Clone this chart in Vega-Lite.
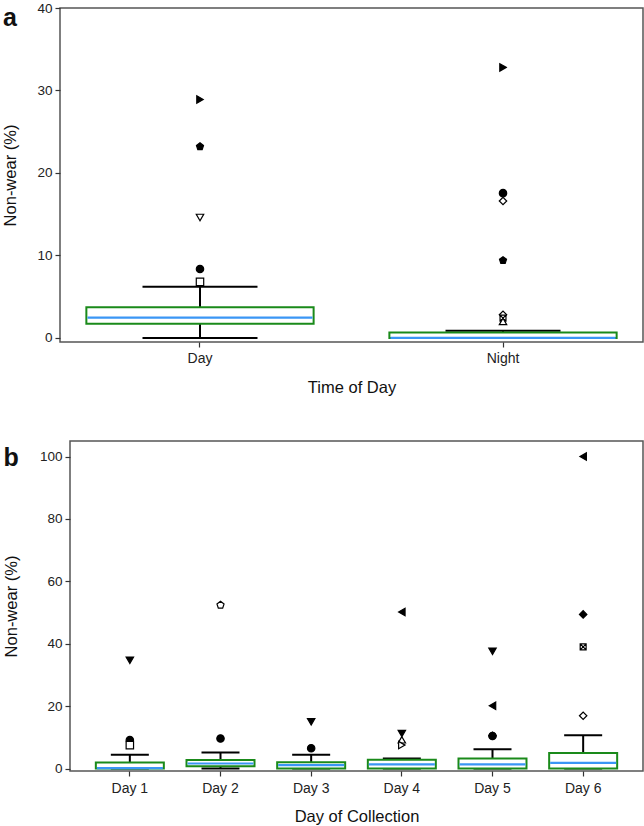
{
  "$schema": "https://vega.github.io/schema/vega-lite/v6.json",
  "padding": {"left": 1, "top": 0, "right": 0, "bottom": 0},
  "background": "white",
  "config": {
    "font": "Liberation Sans",
    "view": {"stroke": "#555555", "strokeWidth": 1.5},
    "axis": {"grid": false, "domain": false, "tickColor": "#333333", "tickSize": 5, "tickWidth": 1.2, "labelFont": "Liberation Sans", "labelFontSize": 13.5, "labelColor": "#222222", "labelPadding": 3, "titleFont": "Liberation Sans", "titleFontSize": 16.5, "titleFontWeight": "normal", "titleColor": "#111111"},
    "axisX": {"labelPadding": 5, "labelFontSize": 14},
    "title": {"fontSize": 25, "fontWeight": "bold", "anchor": "start", "frame": "bounds", "color": "#111111", "font": "Liberation Sans"}
  },
  "datasets": {
    "empty": [],
    "boxA": [
      {"time": "Day", "lower": 0, "q1": 1.7, "median": 2.45, "q3": 3.7, "upper": 6.2},
      {"time": "Night", "lower": 0, "q1": 0, "median": 0, "q3": 0.64, "upper": 0.85}
    ],
    "outA": [
      {"time": "Day", "participant": "P1", "value": 28.9},
      {"time": "Day", "participant": "P2", "value": 23.2},
      {"time": "Day", "participant": "P3", "value": 14.6},
      {"time": "Day", "participant": "P4", "value": 8.35},
      {"time": "Day", "participant": "P5", "value": 6.8},
      {"time": "Night", "participant": "P1", "value": 32.8},
      {"time": "Night", "participant": "P4", "value": 17.55},
      {"time": "Night", "participant": "P6", "value": 16.6},
      {"time": "Night", "participant": "P2", "value": 9.4},
      {"time": "Night", "participant": "P14", "value": 2.8},
      {"time": "Night", "participant": "P8", "value": 2.4},
      {"time": "Night", "participant": "P7", "value": 2.0}
    ],
    "boxB": [
      {"day": "Day 1", "lower": 0, "q1": 0, "median": 0.1, "q3": 1.9, "upper": 4.4},
      {"day": "Day 2", "lower": 0, "q1": 0.7, "median": 1.6, "q3": 2.7, "upper": 5.1},
      {"day": "Day 3", "lower": 0, "q1": 0, "median": 1.1, "q3": 2.0, "upper": 4.4},
      {"day": "Day 4", "lower": 0, "q1": 0, "median": 1.3, "q3": 2.8, "upper": 3.2},
      {"day": "Day 5", "lower": 0, "q1": 0, "median": 1.3, "q3": 3.2, "upper": 6.2},
      {"day": "Day 6", "lower": 0, "q1": 0, "median": 1.8, "q3": 5.0, "upper": 10.7}
    ],
    "outB": [
      {"day": "Day 1", "participant": "P9", "value": 34.7},
      {"day": "Day 1", "participant": "P4", "value": 9.1},
      {"day": "Day 1", "participant": "P5", "value": 7.5},
      {"day": "Day 2", "participant": "P10", "value": 52.4},
      {"day": "Day 2", "participant": "P4", "value": 9.6},
      {"day": "Day 3", "participant": "P9", "value": 15.0},
      {"day": "Day 3", "participant": "P4", "value": 6.5},
      {"day": "Day 4", "participant": "P11", "value": 50.2},
      {"day": "Day 4", "participant": "P9", "value": 11.2},
      {"day": "Day 4", "participant": "P7", "value": 9.2},
      {"day": "Day 4", "participant": "P12", "value": 7.5},
      {"day": "Day 5", "participant": "P9", "value": 37.6},
      {"day": "Day 5", "participant": "P11", "value": 20.1},
      {"day": "Day 5", "participant": "P4", "value": 10.4},
      {"day": "Day 5", "participant": "P13", "value": 10.5},
      {"day": "Day 6", "participant": "P11", "value": 100},
      {"day": "Day 6", "participant": "P13", "value": 49.4},
      {"day": "Day 6", "participant": "P8", "value": 39},
      {"day": "Day 6", "participant": "P6", "value": 16.9}
    ]
  },
  "spacing": 43,
  "vconcat": [
    {"spacing": 0, "hconcat": [
    {"width": 1, "height": 1, "data": {"name": "empty"}, "mark": "point", "encoding": {}, "view": {"stroke": null}},
    {
      "width": 583,
      "height": 334,
      "title": {"text": "a", "offset": -30},
      "encoding": {
        "x": {"field": "time", "type": "nominal", "sort": ["Day", "Night"], "scale": {"paddingInner": 0.25, "paddingOuter": 0.087}, "axis": {"title": "Time of Day", "labelAngle": 0, "labelPadding": 4, "titlePadding": 14}}
      },
      "layer": [
        {
          "data": {"name": "boxA"},
          "mark": {"type": "rule", "color": "black", "strokeWidth": 2},
          "encoding": {
            "y": {"field": "lower", "type": "quantitative", "title": "Non-wear (%)", "scale": {"domain": [-0.5, 40], "nice": false, "zero": false}, "axis": {"values": [0, 10, 20, 30, 40], "titlePadding": 18}},
            "y2": {"field": "upper"}
          }
        },
        {
          "data": {"name": "boxA"},
          "mark": {"type": "tick", "color": "black", "size": 115, "thickness": 2, "opacity": 1},
          "encoding": {"y": {"field": "upper", "type": "quantitative", "title": "Non-wear (%)"}}
        },
        {
          "data": {"name": "boxA"},
          "mark": {"type": "tick", "color": "black", "size": 115, "thickness": 2, "opacity": 1},
          "encoding": {"y": {"field": "lower", "type": "quantitative", "title": "Non-wear (%)"}}
        },
        {
          "data": {"name": "boxA"},
          "mark": {"type": "bar", "fill": "white", "stroke": "#1a8a1a", "strokeWidth": 2},
          "encoding": {"y": {"field": "q1", "type": "quantitative", "title": "Non-wear (%)"}, "y2": {"field": "q3"}}
        },
        {
          "data": {"name": "boxA"},
          "mark": {"type": "tick", "color": "#3a96f5", "size": 225, "thickness": 2.2, "opacity": 1},
          "encoding": {"y": {"field": "median", "type": "quantitative", "title": "Non-wear (%)"}}
        },
        {
          "data": {"name": "outA"},
          "mark": {"type": "point", "stroke": "black", "strokeWidth": 1.2, "opacity": 1, "fillOpacity": 1, "size": 55},
          "encoding": {
            "y": {"field": "value", "type": "quantitative", "title": "Non-wear (%)"},
            "shape": {"field": "participant", "type": "nominal", "legend": null, "scale": {"domain": ["P1","P2","P3","P4","P5","P6","P7","P8","P9","P10","P11","P12","P13","P14"], "range": ["triangle-right", "M0,-1L0.951,-0.309L0.588,0.809L-0.588,0.809L-0.951,-0.309Z", "triangle-down", "circle", "square", "diamond", "triangle-up", "M-0.8,-0.8H0.8V0.8H-0.8ZM-0.8,-0.8L0.8,0.8M0.8,-0.8L-0.8,0.8", "triangle-down", "M0,-1L0.951,-0.309L0.588,0.809L-0.588,0.809L-0.951,-0.309Z", "triangle-left", "triangle-right", "diamond", "diamond"]}},
            "fill": {"field": "participant", "type": "nominal", "legend": null, "scale": {"domain": ["P1","P2","P3","P4","P5","P6","P7","P8","P9","P10","P11","P12","P13","P14"], "range": ["black", "black", "white", "black", "white", "white", "white", "white", "black", "white", "black", "white", "black", "white"]}}
          }
        }
      ]
    }]},
    {"spacing": 0, "hconcat": [
    {"width": 1, "height": 1, "data": {"name": "empty"}, "mark": "point", "encoding": {}, "view": {"stroke": null}},
    {
      "width": 573,
      "height": 330,
      "title": {"text": "b", "offset": -30},
      "encoding": {
        "x": {"field": "day", "type": "nominal", "sort": ["Day 1", "Day 2", "Day 3", "Day 4", "Day 5", "Day 6"], "scale": {"paddingInner": 0.25, "paddingOuter": 0.285}, "axis": {"title": "Day of Collection", "labelAngle": 0, "titlePadding": 13}}
      },
      "layer": [
        {
          "data": {"name": "boxB"},
          "mark": {"type": "rule", "color": "black", "strokeWidth": 2},
          "encoding": {
            "y": {"field": "lower", "type": "quantitative", "title": "Non-wear (%)", "scale": {"domain": [-0.8, 105], "nice": false, "zero": false}, "axis": {"values": [0, 20, 40, 60, 80, 100], "titlePadding": 20}},
            "y2": {"field": "upper"}
          }
        },
        {
          "data": {"name": "boxB"},
          "mark": {"type": "tick", "color": "black", "size": 38, "thickness": 2, "opacity": 1},
          "encoding": {"y": {"field": "upper", "type": "quantitative", "title": "Non-wear (%)"}}
        },
        {
          "data": {"name": "boxB"},
          "mark": {"type": "tick", "color": "black", "size": 38, "thickness": 2, "opacity": 1},
          "encoding": {"y": {"field": "lower", "type": "quantitative", "title": "Non-wear (%)"}}
        },
        {
          "data": {"name": "boxB"},
          "mark": {"type": "bar", "fill": "white", "stroke": "#1a8a1a", "strokeWidth": 2},
          "encoding": {"y": {"field": "q1", "type": "quantitative", "title": "Non-wear (%)"}, "y2": {"field": "q3"}}
        },
        {
          "data": {"name": "boxB"},
          "mark": {"type": "tick", "color": "#3a96f5", "size": 66, "thickness": 2.2, "opacity": 1},
          "encoding": {"y": {"field": "median", "type": "quantitative", "title": "Non-wear (%)"}}
        },
        {
          "data": {"name": "outB"},
          "mark": {"type": "point", "stroke": "black", "strokeWidth": 1.2, "opacity": 1, "fillOpacity": 1, "size": 55},
          "encoding": {
            "y": {"field": "value", "type": "quantitative", "title": "Non-wear (%)"},
            "shape": {"field": "participant", "type": "nominal", "legend": null, "scale": {"domain": ["P1","P2","P3","P4","P5","P6","P7","P8","P9","P10","P11","P12","P13","P14"], "range": ["triangle-right", "M0,-1L0.951,-0.309L0.588,0.809L-0.588,0.809L-0.951,-0.309Z", "triangle-down", "circle", "square", "diamond", "triangle-up", "M-0.8,-0.8H0.8V0.8H-0.8ZM-0.8,-0.8L0.8,0.8M0.8,-0.8L-0.8,0.8", "triangle-down", "M0,-1L0.951,-0.309L0.588,0.809L-0.588,0.809L-0.951,-0.309Z", "triangle-left", "triangle-right", "diamond", "diamond"]}},
            "fill": {"field": "participant", "type": "nominal", "legend": null, "scale": {"domain": ["P1","P2","P3","P4","P5","P6","P7","P8","P9","P10","P11","P12","P13","P14"], "range": ["black", "black", "white", "black", "white", "white", "white", "white", "black", "white", "black", "white", "black", "white"]}}
          }
        }
      ]
    }]}
  ]
}
